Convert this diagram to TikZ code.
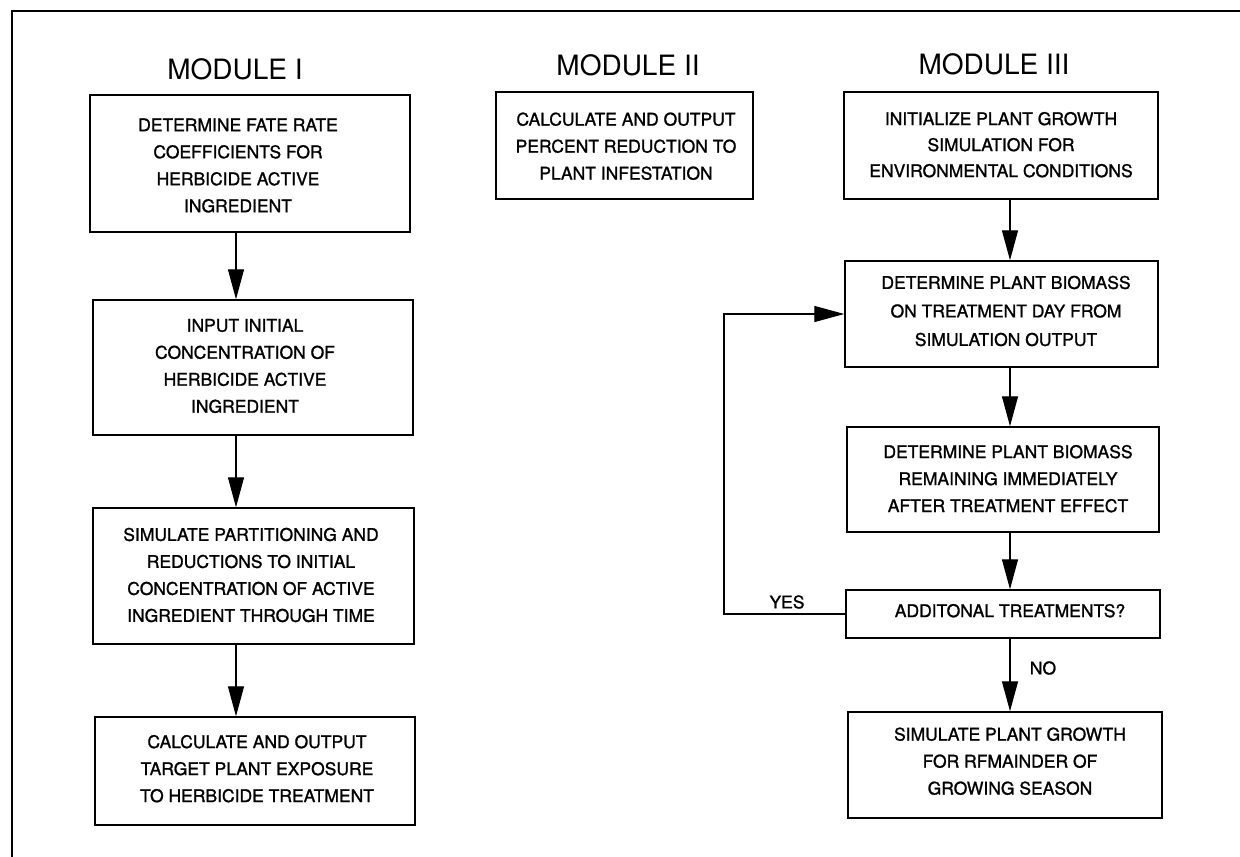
\documentclass[tikz,border=0pt]{standalone}
\usepackage{fontspec}
\setmainfont{TeX Gyre Heros}
\newfontfamily\heavyhv{TeX Gyre Heros}[FakeBold=1.2]
\usetikzlibrary{arrows.meta,calc}
\begin{document}
\begin{tikzpicture}[x=1pt,y=-1pt,
  box/.style={draw,line width=1.4pt,inner sep=0pt},
  txt/.style={align=center,inner sep=0pt,font=\heavyhv\fontsize{17.5}{27}\selectfont},
  title/.style={anchor=base,inner sep=0pt,font=\fontsize{28}{30}\selectfont},
  conn/.style={line width=1.3pt},
  arr/.style={line width=1.3pt,-{Triangle[length=30pt,width=16pt]}}]
\useasboundingbox (0,0) rectangle (1240,857);
\fill[white] (0,0) rectangle (1240,857);
% frame
\draw[line width=1.8pt] (12,857) -- (12,11) -- (1240,11);
% titles
\node[title] (t1) at (235,79) {MODULE I};
\node[title] (t2) at (628,75) {MODULE II};
\node[title] (t3) at (994,74) {MODULE III};
% module I
\node[box,minimum width=320,minimum height=137] (A1) at (250,163.5) {};
\node[txt] (A1t) at (238,165.5) {DETERMINE FATE RATE\\COEFFICIENTS FOR\\HERBICIDE ACTIVE\\INGREDIENT};
\node[box,minimum width=320,minimum height=135] (A2) at (253,367.5) {};
\node[txt] (A2t) at (245,366) {INPUT INITIAL\\CONCENTRATION OF\\HERBICIDE ACTIVE\\INGREDIENT};
\node[box,minimum width=321,minimum height=136] (A3) at (253.5,576) {};
\node[txt] (A3t) at (251,575) {SIMULATE PARTITIONING AND\\REDUCTIONS TO INITIAL\\CONCENTRATION OF ACTIVE\\INGREDIENT THROUGH TIME};
\node[box,minimum width=320,minimum height=108] (A4) at (255,771) {};
\node[txt] (A4t) at (257,768.7) {CALCULATE AND OUTPUT\\TARGET PLANT EXPOSURE\\TO HERBICIDE TREATMENT};
% module II
\node[box,minimum width=257,minimum height=107] (B) at (624.5,145.5) {};
\node[txt] (Bt) at (626,146.2) {CALCULATE AND OUTPUT\\PERCENT REDUCTION TO\\PLANT INFESTATION};
% module III
\node[box,minimum width=314,minimum height=107] (C1) at (1001,145.5) {};
\node[txt,font=\heavyhv\fontsize{17.5}{26}\selectfont] (C1t) at (1001,144.7) {INITIALIZE PLANT GROWTH\\SIMULATION FOR\\ENVIRONMENTAL CONDITIONS};
\node[box,minimum width=313,minimum height=106] (C2) at (1001.5,314) {};
\node[txt,font=\heavyhv\fontsize{17.5}{28.5}\selectfont] (C2t) at (1006,311) {DETERMINE PLANT BIOMASS\\ON TREATMENT DAY FROM\\SIMULATION OUTPUT};
\node[box,minimum width=312,minimum height=105] (C3) at (1003,479.5) {};
\node[txt] (C3t) at (1008,478.7) {DETERMINE PLANT BIOMASS\\REMAINING IMMEDIATELY\\AFTER TREATMENT EFFECT};
\node[box,minimum width=314,minimum height=48] (C4) at (1003,614) {};
\node[txt] (C4t) at (1010,610.7) {ADDITONAL TREATMENTS?};
\node[box,minimum width=314,minimum height=106] (C5) at (1005,765) {};
\node[txt] (C5t) at (1010,761.2) {SIMULATE PLANT GROWTH\\FOR RFMAINDER OF\\GROWING SEASON};
% labels
\node[txt] (yes) at (787,602) {YES};
\node[txt] (no) at (1043,668) {NO};
% connectors
\coordinate (xI) at (236,0);
\coordinate (xIII) at (1010,0);
\coordinate (xL) at (724,0);
\draw[arr] (A1.south -| xI) -- (A2.north -| xI);
\draw[arr] (A2.south -| xI) -- (A3.north -| xI);
\draw[arr] (A3.south -| xI) -- (A4.north -| xI);
\draw[arr] (C1.south -| xIII) -- (C2.north -| xIII);
\draw[arr] (C2.south -| xIII) -- (C3.north -| xIII);
\draw[arr] (C3.south -| xIII) -- (C4.north -| xIII);
\draw[arr] (C4.south -| xIII) -- (C5.north -| xIII);
\draw[arr] (C4.west) -- (C4.west -| xL) -- (C2.west -| xL) -- (C2.west);
\end{tikzpicture}
\end{document}
